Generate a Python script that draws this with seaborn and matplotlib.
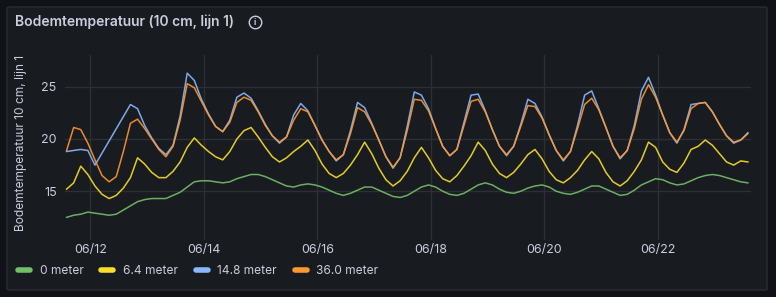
import seaborn as sns
import matplotlib.pyplot as plt
import matplotlib.dates as mdates
import numpy as np
import pandas as pd
from matplotlib.lines import Line2D
from matplotlib.patches import FancyBboxPatch

# readings every 3 hours, starting 2024-06-11 14:00
START = "2024-06-11 14:00"
STEP = "3h"

temp_0m = [
    12.5, 12.7, 12.8, 13.0, 12.9, 12.8, 12.7, 12.8, 13.2, 13.6, 14.0, 14.2, 14.3, 14.3, 14.3, 14.6,
    14.9, 15.4, 15.9, 16.0, 16.0, 15.9, 15.8, 15.9, 16.2, 16.4, 16.6, 16.6, 16.4, 16.1, 15.8, 15.5,
    15.4, 15.6, 15.7, 15.6, 15.4, 15.1, 14.8, 14.6, 14.8, 15.1, 15.4, 15.4, 15.1, 14.8, 14.5, 14.4,
    14.6, 15.0, 15.4, 15.6, 15.4, 15.0, 14.7, 14.6, 14.8, 15.2, 15.6, 15.8, 15.6, 15.2, 14.9, 14.8,
    15.0, 15.3, 15.5, 15.6, 15.4, 15.0, 14.8, 14.7, 14.9, 15.2, 15.5, 15.5, 15.2, 14.9, 14.6, 14.7,
    15.1, 15.6, 15.9, 16.2, 16.1, 15.8, 15.6, 15.7, 16.0, 16.3, 16.5, 16.6, 16.5, 16.3, 16.1, 15.9,
    15.8,
]

temp_6m = [
    15.2, 15.8, 17.4, 16.6, 15.5, 14.7, 14.3, 14.6, 15.3, 16.3, 18.2, 17.6, 16.8, 16.3, 16.3, 16.9,
    17.8, 19.2, 20.1, 19.4, 18.8, 18.3, 18.0, 18.8, 20.0, 20.8, 21.1, 20.2, 19.2, 18.3, 17.8, 18.2,
    18.8, 19.3, 19.9, 18.9, 17.6, 16.7, 16.3, 16.7, 17.5, 18.5, 19.7, 18.6, 17.2, 16.1, 15.5, 16.0,
    16.9, 18.2, 19.2, 18.2, 17.0, 16.2, 15.9, 16.5, 17.4, 18.4, 19.7, 18.9, 17.6, 16.7, 16.3, 16.8,
    17.6, 18.5, 19.0, 18.1, 16.9, 16.1, 15.8, 16.3, 17.0, 18.0, 18.8, 18.1, 16.8, 15.9, 15.5, 16.0,
    16.9, 18.0, 19.7, 19.2, 17.8, 17.1, 16.8, 17.7, 19.0, 19.3, 19.9, 19.4, 18.6, 17.8, 17.5, 17.9,
    17.8,
]

# gap in the 14.8 m sensor on 06/12 (drawn as a straight line)
temp_14m = [
    18.8, 18.9, 19.0, 18.9, 17.5, np.nan, np.nan, np.nan, np.nan, 23.3, 22.9, 21.3, 20.1, 19.1, 18.5, 19.4,
    22.2, 26.3, 25.6, 23.8, 22.4, 21.2, 20.7, 21.8, 24.0, 24.4, 23.9, 22.7, 21.4, 20.3, 19.6, 20.2,
    22.3, 23.4, 22.7, 21.3, 19.9, 18.8, 17.9, 18.5, 20.8, 23.5, 23.0, 21.5, 19.9, 18.3, 17.2, 18.2,
    21.2, 24.5, 24.2, 22.9, 21.0, 19.3, 18.4, 19.0, 21.6, 24.2, 24.3, 22.7, 20.9, 19.3, 18.4, 19.3,
    21.4, 23.8, 23.4, 22.1, 20.4, 18.9, 17.9, 18.8, 21.3, 24.2, 24.6, 22.9, 21.1, 19.3, 18.1, 18.9,
    21.3, 24.6, 25.9, 24.2, 22.3, 20.6, 19.6, 20.9, 23.3, 23.4, 23.5, 22.6, 21.4, 20.3, 19.6, 19.9,
    20.6,
]

temp_36m = [
    18.9, 21.1, 20.9, 19.6, 18.0, 16.5, 15.9, 16.4, 18.8, 21.5, 21.9, 21.0, 20.0, 19.0, 18.3, 19.3,
    21.8, 25.3, 24.9, 23.6, 22.3, 21.2, 20.7, 21.6, 23.5, 24.0, 23.7, 22.6, 21.3, 20.3, 19.7, 20.2,
    21.8, 22.9, 22.6, 21.3, 19.9, 18.8, 18.0, 18.5, 20.5, 23.0, 22.6, 21.4, 19.9, 18.3, 17.3, 18.2,
    20.8, 23.8, 23.7, 22.7, 21.0, 19.3, 18.4, 19.0, 21.3, 23.6, 23.8, 22.6, 20.9, 19.3, 18.5, 19.3,
    21.2, 23.2, 23.1, 22.0, 20.4, 18.9, 18.0, 18.8, 21.0, 23.3, 23.9, 22.8, 21.1, 19.3, 18.2, 18.9,
    21.0, 23.8, 25.2, 24.0, 22.3, 20.6, 19.7, 20.8, 22.9, 23.4, 23.5, 22.6, 21.4, 20.3, 19.7, 19.9,
    20.5,
]

series_names = ["0 meter", "6.4 meter", "14.8 meter", "36.0 meter"]
series_values = [temp_0m, temp_6m, temp_14m, temp_36m]
series_colors = ["#73BF69", "#FADE2A", "#8AB8FF", "#FF9830"]

TEXT = "#ccccdc"
BG = "#111217"
PANEL = "#181b1f"

W, H = 776, 297


def main():
    frames = []
    for name, vals in zip(series_names, series_values):
        t = pd.date_range(START, periods=len(vals), freq=STEP)
        frames.append(pd.DataFrame({"time": t, "temp": vals, "series": name}))
    df = pd.concat(frames).dropna()

    plt.rcParams["font.family"] = ["Inter", "DejaVu Sans"]
    fig = plt.figure(figsize=(W / 100, H / 100), dpi=100, facecolor=BG)

    panel = FancyBboxPatch((7 / W, 1 - 290 / H), 760 / W, 283 / H,
                           boxstyle="round,pad=0,rounding_size=0.004",
                           transform=fig.transFigure, facecolor=PANEL,
                           edgecolor="#2a2d33", linewidth=1, zorder=-5)
    fig.add_artist(panel)

    ax = fig.add_axes([65 / W, 1 - 240 / H, 686 / W, 185 / H])
    ax.set_facecolor("none")

    sns.lineplot(data=df, x="time", y="temp", hue="series", hue_order=series_names,
                 palette=dict(zip(series_names, series_colors)), estimator=None,
                 linewidth=1.1, alpha=0.9, legend=False, ax=ax)

    ax.set_xlim(pd.Timestamp("2024-06-11 13:20"), pd.Timestamp("2024-06-23 15:20"))
    ax.set_ylim(10.33, 28.04)
    ax.set_yticks([15, 20, 25])
    ax.xaxis.set_major_locator(mdates.DayLocator(bymonthday=[12, 14, 16, 18, 20, 22]))
    ax.xaxis.set_major_formatter(mdates.DateFormatter("%m/%d"))
    ax.grid(True, color="#2c2f35", linewidth=1)
    ax.set_axisbelow(True)
    for s in ax.spines.values():
        s.set_visible(False)
    ax.tick_params(length=0, colors=TEXT, labelsize=9)
    ax.tick_params(axis="x", pad=3)
    ax.tick_params(axis="y", pad=6)
    ax.set_xlabel("")
    ax.set_ylabel("")

    fig.text(21 / W, 1 - 143 / H, "Bodemtemperatuur 10 cm, lijn 1", rotation=90,
             color=TEXT, fontsize=8.6, ha="center", va="center")

    fig.text(15 / W, 1 - 22 / H, "Bodemtemperatuur (10 cm, lijn 1)", color=TEXT,
             fontsize=10, fontweight="semibold", ha="left", va="center")
    fig.add_artist(Line2D([255 / W], [1 - 22 / H], marker="o", markersize=9,
                          markerfacecolor="none", markeredgecolor=TEXT, markeredgewidth=1,
                          transform=fig.transFigure))
    fig.text(255 / W, 1 - 22.5 / H, "i", color=TEXT, fontsize=6, fontweight="bold",
             ha="center", va="center")

    handles = [Line2D([], [], color=c, linewidth=4, solid_capstyle="round") for c in series_colors]
    fig.legend(handles, series_names, loc="center left", bbox_to_anchor=(18 / W, 1 - 271 / H),
               ncol=4, frameon=False, fontsize=8.6, labelcolor=TEXT, handlelength=1.0,
               handletextpad=0.8, columnspacing=1.5, borderaxespad=0, borderpad=0)

    fig.savefig("out.png", dpi=100, facecolor=BG)
    plt.close(fig)


if __name__ == "__main__":
    main()
